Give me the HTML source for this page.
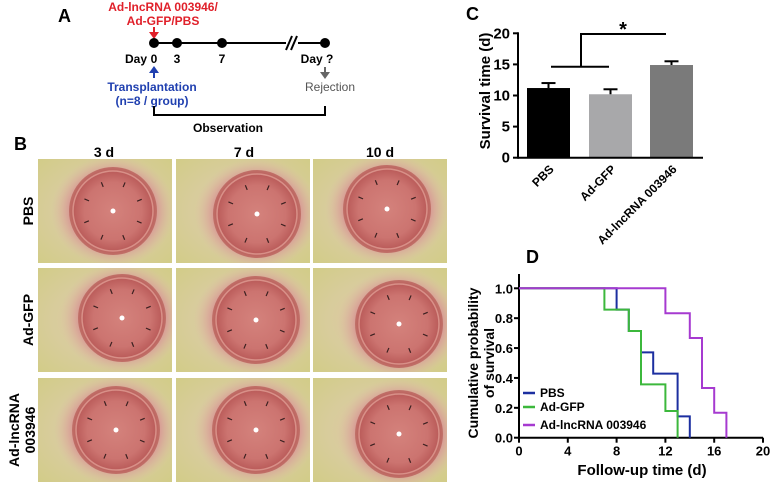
<!DOCTYPE html>
<html><head><meta charset="utf-8"><style>
html,body{margin:0;padding:0;background:#fff;}
svg{display:block;font-family:"Liberation Sans",Arial,sans-serif;}
</style></head><body>
<svg id="fig" width="773" height="486" viewBox="0 0 773 486" xmlns="http://www.w3.org/2000/svg">
<defs>
<radialGradient id="bgG" cx="50%" cy="50%" r="70%">
<stop offset="0%" stop-color="#e2c4a4"/><stop offset="55%" stop-color="#d8cc9c"/><stop offset="100%" stop-color="#d2cc88"/>
</radialGradient>
<radialGradient id="ringG" cx="50%" cy="50%" r="50%">
<stop offset="72%" stop-color="#d8a096"/><stop offset="100%" stop-color="#dcc0a4" stop-opacity="0"/>
</radialGradient>
<radialGradient id="corG" cx="50%" cy="50%" r="50%">
<stop offset="0%" stop-color="#d4827c"/><stop offset="65%" stop-color="#cc7470"/><stop offset="88%" stop-color="#bc5e5c"/><stop offset="100%" stop-color="#c07068"/>
</radialGradient>
</defs>

<g>
<text x="58" y="22" font-size="18" font-weight="bold">A</text>
<text x="163" y="11" font-size="12" font-weight="bold" fill="#e0202a" text-anchor="middle">Ad-lncRNA 003946/</text>
<text x="163" y="25" font-size="12" font-weight="bold" fill="#e0202a" text-anchor="middle">Ad-GFP/PBS</text>
<line x1="154" y1="27" x2="154" y2="34" stroke="#e0202a" stroke-width="2"/>
<polygon points="149,32 159,32 154,39" fill="#e0202a"/>
<line x1="154" y1="43" x2="325" y2="43" stroke="#000" stroke-width="2"/>
<rect x="286" y="36" width="12" height="14" fill="#fff"/>
<line x1="286" y1="50" x2="292" y2="36" stroke="#000" stroke-width="2"/>
<line x1="291" y1="50" x2="297" y2="36" stroke="#000" stroke-width="2"/>
<circle cx="154" cy="43" r="5" fill="#000"/><circle cx="177" cy="43" r="5" fill="#000"/><circle cx="222" cy="43" r="5" fill="#000"/><circle cx="325" cy="43" r="5" fill="#000"/>
<g font-size="12" font-weight="bold" text-anchor="middle">
<text x="136" y="63">Day</text><text x="154" y="63">0</text><text x="177" y="63">3</text><text x="222" y="63">7</text><text x="317" y="63">Day ?</text>
</g>
<line x1="154" y1="78" x2="154" y2="72" stroke="#2040b0" stroke-width="2"/>
<polygon points="149,73 159,73 154,66" fill="#2040b0"/>
<text x="152" y="91" font-size="12" font-weight="bold" fill="#2040b0" text-anchor="middle">Transplantation</text>
<text x="152" y="105" font-size="12" font-weight="bold" fill="#2040b0" text-anchor="middle">(n=8 / group)</text>
<line x1="325" y1="67" x2="325" y2="73" stroke="#666" stroke-width="2"/>
<polygon points="320,72 330,72 325,79" fill="#666"/>
<text x="330" y="91" font-size="12" fill="#555" text-anchor="middle">Rejection</text>
<polyline points="154,106 154,115 325,115 325,106" fill="none" stroke="#000" stroke-width="2"/>
<text x="228" y="132" font-size="12" font-weight="bold" text-anchor="middle">Observation</text>
</g>

<g id="panelB">
<text x="14" y="150" font-size="18" font-weight="bold">B</text>
<g font-size="14" font-weight="bold" text-anchor="middle">
<text x="104" y="157">3 d</text>
<text x="244" y="157">7 d</text>
<text x="380" y="157">10 d</text>
<text transform="translate(33,211) rotate(-90)">PBS</text>
<text transform="translate(33,320) rotate(-90)">Ad-GFP</text>
<text transform="translate(19,430) rotate(-90)">Ad-lncRNA</text>
<text transform="translate(35,430) rotate(-90)">003946</text>
</g>
</g>

<g id="panelC">
<text x="466" y="20" font-size="18" font-weight="bold">C</text>
<text transform="translate(490,91) rotate(-90)" font-size="15" font-weight="bold" text-anchor="middle">Survival time (d)</text>
</g>

<g id="panelD">
<text x="526" y="263" font-size="18" font-weight="bold">D</text>
<text transform="translate(478,363) rotate(-90)" font-size="14" font-weight="bold" text-anchor="middle">Cumulative probability</text>
<text transform="translate(494,363) rotate(-90)" font-size="14" font-weight="bold" text-anchor="middle">of survival</text>
<text x="642" y="475" font-size="15" font-weight="bold" text-anchor="middle">Follow-up time (d)</text>
</g>
</svg>
<script>
const NS="http://www.w3.org/2000/svg";
function mk(tag,attrs,parent){const e=document.createElementNS(NS,tag);for(const k in attrs)e.setAttribute(k,attrs[k]);parent.appendChild(e);return e;}

// Panel C data
const groups=["PBS","Ad-GFP","Ad-lncRNA 003946"];
const means=[11.2,10.2,14.9];
const errs=[0.8,0.8,0.6];
const barColors=["#000000","#a8a8aa","#7a7a7a"];
const cTicks=[0,5,10,15,20];

// Panel D data
const dTicksX=[0,4,8,12,16,20];
const dTicksY=[0,0.2,0.4,0.6,0.8,1.0];
const pbsT=[0,8,9,10,11,13,14];
const pbsS=[1,0.857,0.714,0.571,0.429,0.143,0];
const gfpT=[0,7,9,10,12,13];
const gfpS=[1,0.857,0.714,0.357,0.179,0];
const lncT=[0,12,14,15,16,17];
const lncS=[1,0.833,0.667,0.333,0.167,0];
const seriesNames=["PBS","Ad-GFP","Ad-lncRNA 003946"];
const seriesColors=["#1c2fa0","#3cb83c","#a63ad0"];

// Panel B photos
const pb=document.getElementById('panelB');
const colX=[38,176,313], rowY=[159,268,378];
const cxOff=[[75,81,74],[84,80,86],[78,80,86]];
const cyOff=[[52,55,50],[50,52,56],[52,52,56]];
for(let r=0;r<3;r++)for(let c=0;c<3;c++){
  const x=colX[c],y=rowY[r];
  const g=mk('g',{},pb);
  
  
  mk('rect',{x:x,y:y,width:134,height:104,fill:'url(#bgG)'},g);
  const cx=x+cxOff[r][c], cy=y+cyOff[r][c];
  const cp=mk('clipPath',{id:'cp'+r+c},g);
  mk('rect',{x:x,y:y,width:134,height:104},cp);
  const gi=mk('g',{'clip-path':'url(#cp'+r+c+')'},g);
  mk('ellipse',{cx:cx,cy:cy,rx:62,ry:56,fill:'url(#ringG)'},gi);
  mk('circle',{cx:cx,cy:cy,r:44,fill:'url(#corG)'},gi);
  mk('circle',{cx:cx,cy:cy,r:40,fill:'none',stroke:'#d89088','stroke-width':1.5},gi);
  for(let k=0;k<8;k++){const a=k*Math.PI/4+0.4;
    mk('line',{x1:cx+Math.cos(a)*26,y1:cy+Math.sin(a)*26,x2:cx+Math.cos(a)*31,y2:cy+Math.sin(a)*31,stroke:'#3a2020','stroke-width':1.2},gi);}
  mk('circle',{cx:cx,cy:cy,r:2.5,fill:'#fff'},gi);
}

// Panel C drawing
const pc=document.getElementById('panelC');
const cy0=157.7, cy20=33.3, cxAxis=518;
const yC=v=>cy0+(cy20-cy0)*v/20;
const barX=[527,589,650], barW=43;
cTicks.forEach(t=>{
  mk('line',{x1:cxAxis-5,y1:yC(t),x2:cxAxis,y2:yC(t),stroke:'#000','stroke-width':2},pc);
  const tx=mk('text',{x:cxAxis-8,y:yC(t)+5,'font-size':15,'font-weight':'bold','text-anchor':'end'},pc);tx.textContent=t;
});
means.forEach((m,i)=>{
  const b=mk('rect',{x:barX[i],y:yC(m),width:barW,height:cy0-yC(m),fill:barColors[i]},pc);
  
  
  const mx=barX[i]+barW/2;
  mk('line',{x1:mx,y1:yC(m),x2:mx,y2:yC(m+errs[i]),stroke:'#000','stroke-width':2},pc);
  mk('line',{x1:mx-7,y1:yC(m+errs[i]),x2:mx+7,y2:yC(m+errs[i]),stroke:'#000','stroke-width':2},pc);
  const lb=mk('text',{transform:'translate('+(mx+6)+',170) rotate(-45)','font-size':12,'font-weight':'bold','text-anchor':'end'},pc);
  lb.textContent=groups[i];
  
  
});
mk('line',{x1:cxAxis,y1:cy20-1,x2:cxAxis,y2:cy0+1,stroke:'#000','stroke-width':2},pc);
mk('line',{x1:cxAxis,y1:cy0,x2:703,y2:cy0,stroke:'#000','stroke-width':2},pc);
mk('polyline',{points:'551,66.7 609,66.7',stroke:'#000','stroke-width':2,fill:'none'},pc);
mk('polyline',{points:'581,66.7 581,34 666,34',stroke:'#000','stroke-width':2,fill:'none'},pc);
const st=mk('text',{x:623,y:36,'font-size':20,'font-weight':'bold','text-anchor':'middle'},pc);st.textContent='*';

// Panel D drawing
const pd=document.getElementById('panelD');
const dx0=519, dxPer=12.2, dy0=437.7, dy1=288.3;
const xD=v=>dx0+v*dxPer, yD=v=>dy0+(dy1-dy0)*v;
dTicksX.forEach(t=>{
  mk('line',{x1:xD(t),y1:dy0,x2:xD(t),y2:dy0+5,stroke:'#000','stroke-width':2},pd);
  const tx=mk('text',{x:xD(t),y:dy0+18,'font-size':13,'font-weight':'bold','text-anchor':'middle'},pd);tx.textContent=t;
});
dTicksY.forEach(t=>{
  mk('line',{x1:dx0-5,y1:yD(t),x2:dx0,y2:yD(t),stroke:'#000','stroke-width':2},pd);
  const tx=mk('text',{x:dx0-6,y:yD(t)+5,'font-size':13,'font-weight':'bold','text-anchor':'end'},pd);tx.textContent=t.toFixed(1);
});
mk('line',{x1:dx0,y1:274,x2:dx0,y2:dy0+1,stroke:'#000','stroke-width':2},pd);
mk('line',{x1:dx0,y1:dy0,x2:xD(20),y2:dy0,stroke:'#000','stroke-width':2},pd);
[[pbsT,pbsS],[gfpT,gfpS],[lncT,lncS]].forEach((s,i)=>{
  const T=s[0],S=s[1];let p=xD(T[0])+','+yD(S[0]);
  for(let k=1;k<T.length;k++){p+=' '+xD(T[k])+','+yD(S[k-1])+' '+xD(T[k])+','+yD(S[k]);}
  const pl=mk('polyline',{points:p,fill:'none',stroke:seriesColors[i],'stroke-width':2},pd);
  
  
  const ly=[393,407,425][i];
  mk('line',{x1:523,y1:ly,x2:535,y2:ly,stroke:seriesColors[i],'stroke-width':2.5},pd);
  const lt=mk('text',{x:540,y:ly+4,'font-size':12,'font-weight':'bold'},pd);lt.textContent=seriesNames[i];
  
  
});
</script>
</body></html>
